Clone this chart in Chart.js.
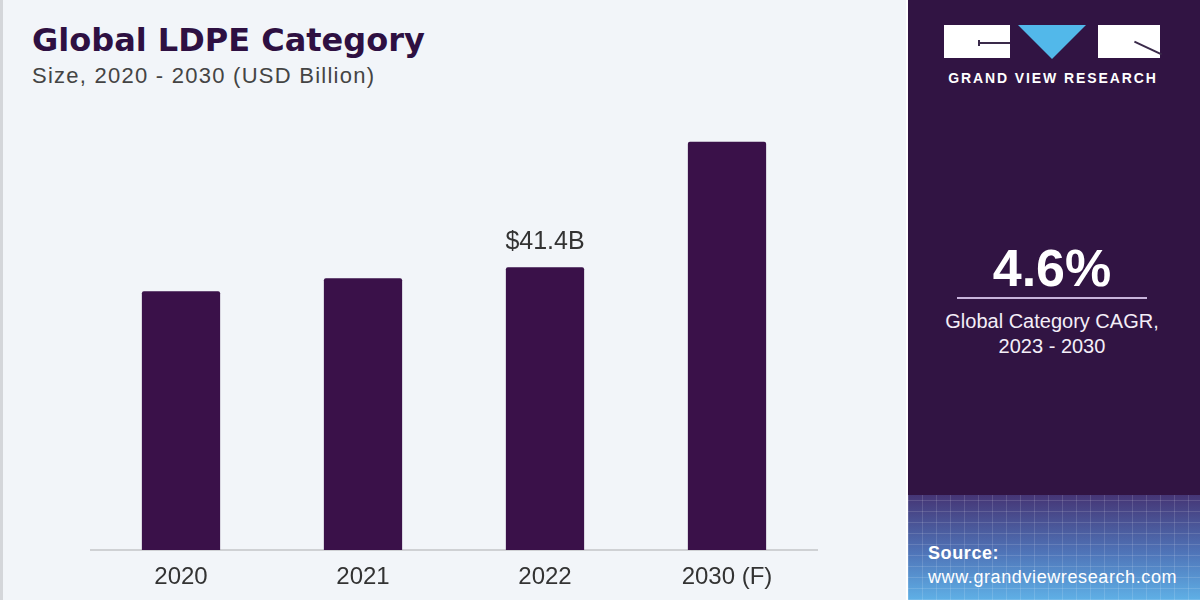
<!DOCTYPE html>
<html>
<head>
<meta charset="utf-8">
<script src="https://cdn.jsdelivr.net/npm/chart.js@4/dist/chart.umd.min.js"></script>
<style>
  body { margin: 0; width: 1200px; height: 600px; overflow: hidden; font-family: "Liberation Sans", Arial, sans-serif; }
  #left { position: absolute; left: 0; top: 0; width: 906px; height: 600px; background: #f2f5f9; border-left: 3px solid #d4d6da; box-sizing: border-box; }
  #title { position: absolute; left: 29px; top: 21px; font-family: "DejaVu Sans", sans-serif; font-size: 32px; font-weight: bold; color: #2e1042; letter-spacing: 0px; }
  #subtitle { position: absolute; left: 29px; top: 63px; font-size: 22px; color: #444; letter-spacing: 1.25px; }
  #chartBox { position: absolute; left: 87px; top: 72px; width: 728px; height: 528px; }
  #panel { position: absolute; left: 908px; top: 0; width: 292px; height: 600px; background: #311443; overflow: hidden; }
  #grid { position: absolute; left: 0; top: 495px; width: 292px; height: 105px;
    background:
      repeating-linear-gradient(90deg, rgba(255,255,255,0.13) 0 1px, transparent 1px 14px),
      repeating-linear-gradient(0deg, rgba(255,255,255,0.13) 0 1px, transparent 1px 11px),
      linear-gradient(180deg, #453575 0%, #4f74b8 55%, #5fb0e6 100%); }
  .logoRect { position: absolute; top: 25px; height: 33px; background: #fff; }
  .logoLine { position: absolute; height: 2px; background: #3a2a4a; }
  #tri { position: absolute; left: 110px; top: 25px; width: 0; height: 0;
    border-left: 34px solid transparent; border-right: 34px solid transparent; border-top: 34px solid #52b8ea; }
  #brand { position: absolute; left: 32px; top: 70px; width: 226px; text-align: center; color: #fff; font-size: 14px; font-weight: bold; letter-spacing: 1.9px; }
  #cagr { position: absolute; left: 0; top: 238px; width: 288px; text-align: center; color: #fff; font-size: 52px; font-weight: bold; }
  #rule { position: absolute; left: 49px; top: 297px; width: 190px; height: 2px; background: #c8b4dc; }
  #cagrText { position: absolute; left: 0; top: 309px; width: 288px; text-align: center; color: #f4eef8; font-size: 20px; line-height: 25px; }
  #src { position: absolute; left: 20px; top: 541px; color: #fff; font-size: 18px; line-height: 24px; letter-spacing: 0.6px; }
</style>
</head>
<body>
<div id="left">
  <div id="title">Global LDPE Category</div>
  <div id="subtitle">Size, 2020 - 2030 (USD Billion)</div>
  <div id="chartBox"><canvas id="chart"></canvas></div>
</div>
<div id="panel">
  <div id="grid"></div>
  <div class="logoRect" style="left:36px;width:66px;"></div>
  <div class="logoLine" style="left:70px;top:42px;width:32px;"></div>
  <div class="logoLine" style="left:70px;top:40px;width:2px;height:6px;"></div>
  <div id="tri"></div>
  <div class="logoRect" style="left:190px;width:62px;"></div>
  <div class="logoLine" style="left:225px;top:47px;width:30px;transform:rotate(25deg);"></div>
  <div id="brand">GRAND VIEW RESEARCH</div>
  <div id="cagr">4.6%</div>
  <div id="rule"></div>
  <div id="cagrText">Global Category CAGR,<br>2023 - 2030</div>
  <div id="src"><b>Source:</b><br>www.grandviewresearch.com</div>
</div>
<script>
const categories = ['2020', '2021', '2022', '2030 (F)'];
const marketSize = [37.9, 39.8, 41.4, 59.8];
const valueLabels = ['', '', '$41.4B', ''];

const ctx = document.getElementById('chart');

// draws the "$41.4B" label above its bar
const barLabels = {
    id: 'barLabels',
    afterDatasetsDraw(chart) {
        const c = chart.ctx;
        const meta = chart.getDatasetMeta(0);
        c.save();
        c.font = '25px "Liberation Sans", Arial, sans-serif';
        c.fillStyle = '#333';
        c.textAlign = 'center';
        c.textBaseline = 'bottom';
        meta.data.forEach((bar, i) => {
            if (valueLabels[i]) c.fillText(valueLabels[i], bar.x, bar.y - 13);
        });
        c.restore();
    }
};

new Chart(ctx, {
    type: 'bar',
    data: {
        labels: categories,
        datasets: [{
            data: marketSize,
            backgroundColor: '#3a1149',
            borderRadius: 2,
            barPercentage: 0.86,
            categoryPercentage: 0.5
        }]
    },
    options: {
        responsive: true,
        maintainAspectRatio: false,
        animation: false,
        layout: { padding: 0 },
        plugins: {
            legend: { display: false },
            tooltip: { enabled: false }
        },
        scales: {
            x: {
                grid: { display: false },
                border: { color: '#cfd1d4', width: 2 },
                ticks: { color: '#333', font: { size: 24, family: '"Liberation Sans", Arial, sans-serif' }, padding: 5 },
                afterFit: (axis) => { axis.height = 50; }
            },
            y: {
                display: false,
                min: 0,
                max: 70
            }
        }
    },
    plugins: [barLabels]
});
</script>
</body>
</html>
